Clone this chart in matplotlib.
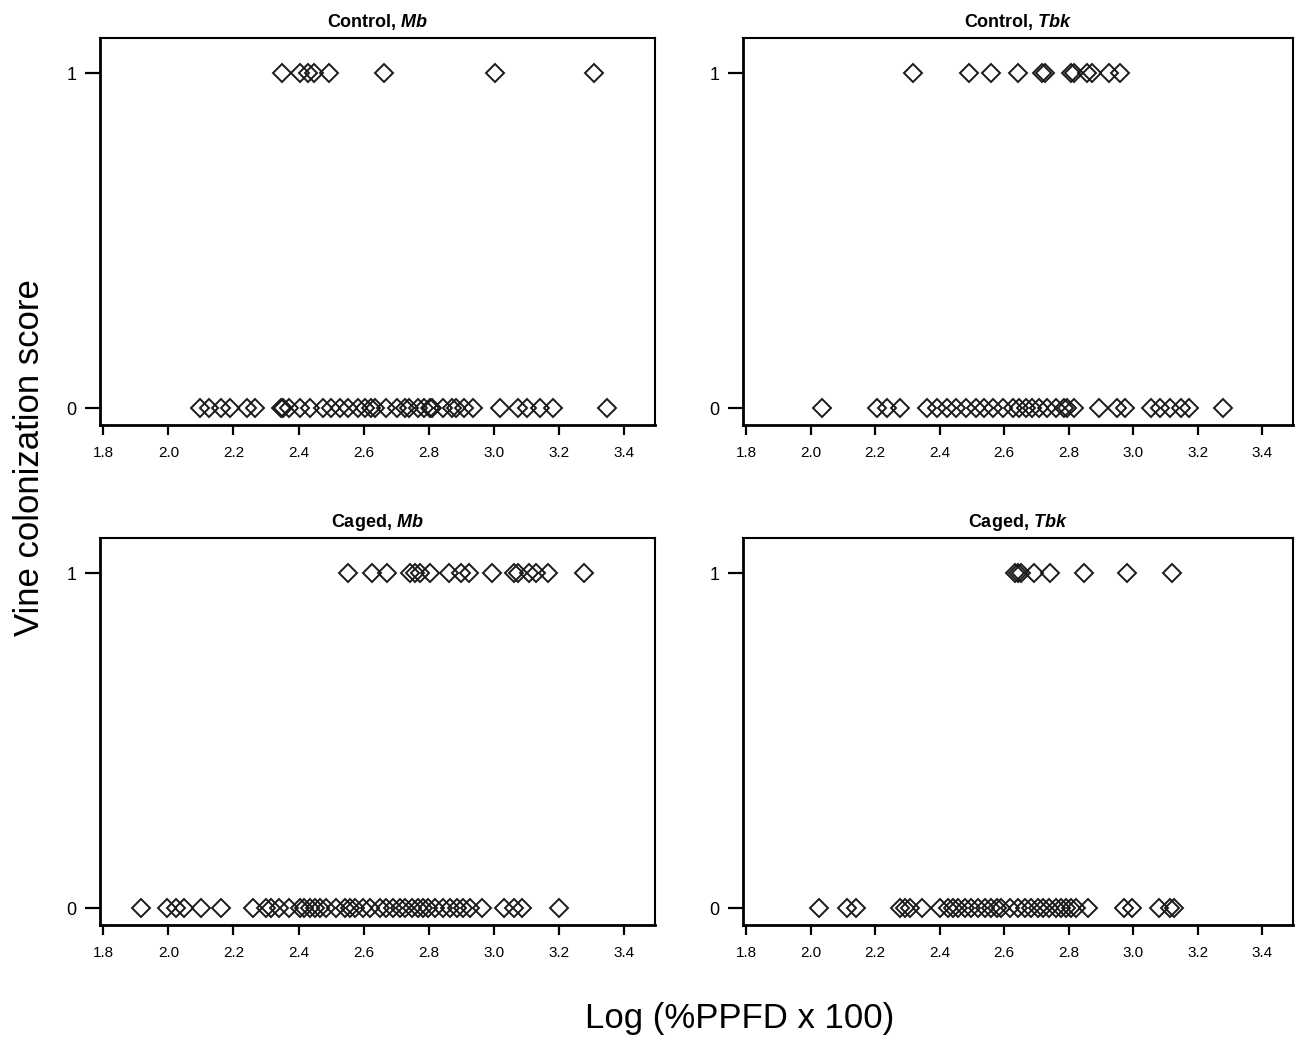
import matplotlib
matplotlib.use("Agg")
import matplotlib.pyplot as plt

plt.rcParams['font.family'] = ['Liberation Sans', 'DejaVu Sans']
plt.rcParams['mathtext.fontset'] = 'custom'
plt.rcParams['mathtext.bfit'] = 'Liberation Sans:italic:bold'
plt.rcParams['mathtext.it'] = 'Liberation Sans:italic'
plt.rcParams['mathtext.bf'] = 'Liberation Sans:bold'
plt.rcParams['mathtext.rm'] = 'Liberation Sans'

# light level (log %PPFD x 100) of vines scored 0 and 1
ctrl_mb_0 = [2.098, 2.124, 2.163, 2.189, 2.241, 2.267, 2.345, 2.351, 2.370, 2.403,
             2.435, 2.474, 2.500, 2.526, 2.552, 2.584, 2.604, 2.623, 2.636, 2.669,
             2.701, 2.727, 2.740, 2.766, 2.785, 2.805, 2.811, 2.844, 2.870, 2.883,
             2.909, 2.935, 3.019, 3.073, 3.103, 3.142, 3.181, 3.346]
ctrl_mb_1 = [2.349, 2.404, 2.429, 2.448, 2.493, 2.663, 3.004, 3.307]

ctrl_tbk_0 = [2.036, 2.205, 2.236, 2.277, 2.359, 2.390, 2.421, 2.451, 2.482, 2.513,
              2.538, 2.564, 2.595, 2.626, 2.646, 2.667, 2.687, 2.708, 2.733, 2.759,
              2.785, 2.795, 2.815, 2.892, 2.949, 2.974, 3.056, 3.082, 3.113, 3.149,
              3.174, 3.277]
ctrl_tbk_1 = [2.318, 2.490, 2.559, 2.641, 2.718, 2.726, 2.808, 2.815, 2.856, 2.872,
              2.923, 2.959]

cage_mb_0 = [1.915, 1.997, 2.023, 2.048, 2.100, 2.161, 2.259, 2.300, 2.316, 2.341,
             2.372, 2.403, 2.418, 2.434, 2.449, 2.465, 2.485, 2.516, 2.542, 2.557,
             2.572, 2.598, 2.619, 2.650, 2.670, 2.691, 2.711, 2.727, 2.747, 2.768,
             2.783, 2.799, 2.819, 2.845, 2.865, 2.886, 2.906, 2.927, 2.963, 3.030,
             3.061, 3.086, 3.199]
cage_mb_1 = [2.553, 2.625, 2.671, 2.743, 2.759, 2.772, 2.805, 2.861, 2.899, 2.923,
             2.993, 3.062, 3.074, 3.108, 3.129, 3.165, 3.278]

cage_tbk_0 = [2.026, 2.113, 2.139, 2.277, 2.293, 2.308, 2.344, 2.401, 2.427, 2.442,
              2.457, 2.478, 2.498, 2.519, 2.540, 2.560, 2.576, 2.591, 2.617, 2.642,
              2.663, 2.683, 2.704, 2.719, 2.740, 2.761, 2.776, 2.791, 2.807, 2.822,
              2.858, 2.971, 2.997, 3.079, 3.115, 3.125]
cage_tbk_1 = [2.633, 2.643, 2.653, 2.692, 2.743, 2.848, 2.979, 3.120]

titles = [r'Control, $\mathbfit{Mb}$', r'Control, $\mathbfit{Tbk}$',
          r'Caged, $\mathbfit{Mb}$', r'Caged, $\mathbfit{Tbk}$']
panels = [(ctrl_mb_0, ctrl_mb_1), (ctrl_tbk_0, ctrl_tbk_1),
          (cage_mb_0, cage_mb_1), (cage_tbk_0, cage_tbk_1)]
xticks = [1.8, 2.0, 2.2, 2.4, 2.6, 2.8, 3.0, 3.2, 3.4]

fig = plt.figure(figsize=(12.95, 10.4), dpi=100)
boxes = [[0.0772, 0.5913, 0.4286, 0.3722], [0.5737, 0.5913, 0.4248, 0.3722],
         [0.0772, 0.1106, 0.4286, 0.3722], [0.5737, 0.1106, 0.4248, 0.3722]]

for box, title, (zeros, ones) in zip(boxes, titles, panels):
    ax = fig.add_axes(box)
    ax.plot(zeros, [0] * len(zeros), linestyle='', marker='D', markersize=9.6,
            markerfacecolor='none', markeredgecolor='#1a1a1a', markeredgewidth=1.4)
    ax.plot(ones, [1] * len(ones), linestyle='', marker='D', markersize=9.6,
            markerfacecolor='none', markeredgecolor='#1a1a1a', markeredgewidth=1.4)
    ax.set_xlim(1.79, 3.495)
    ax.set_ylim(-0.05, 1.105)
    ax.set_xticks(xticks)
    ax.set_xticklabels(['%.1f' % t for t in xticks], fontsize=11)
    ax.set_yticks([0, 1])
    ax.set_yticklabels(['0', '1'], fontsize=13)
    ax.tick_params(axis='x', length=7, width=1.6, pad=8)
    ax.tick_params(axis='y', length=11, width=1.6, pad=6)
    for s in ax.spines.values():
        s.set_linewidth(1.5)
    ax.spines['left'].set_linewidth(2)
    ax.spines['bottom'].set_linewidth(2)
    ax.set_title(title, fontsize=13, fontweight='bold', pad=8)

fig.text(0.023, 0.56, 'Vine colonization score', rotation=90, fontsize=25,
         ha='center', va='center')
fig.text(0.571, 0.021, 'Log (%PPFD x 100)', fontsize=25, ha='center', va='center')

fig.savefig('out.png', dpi=100)
